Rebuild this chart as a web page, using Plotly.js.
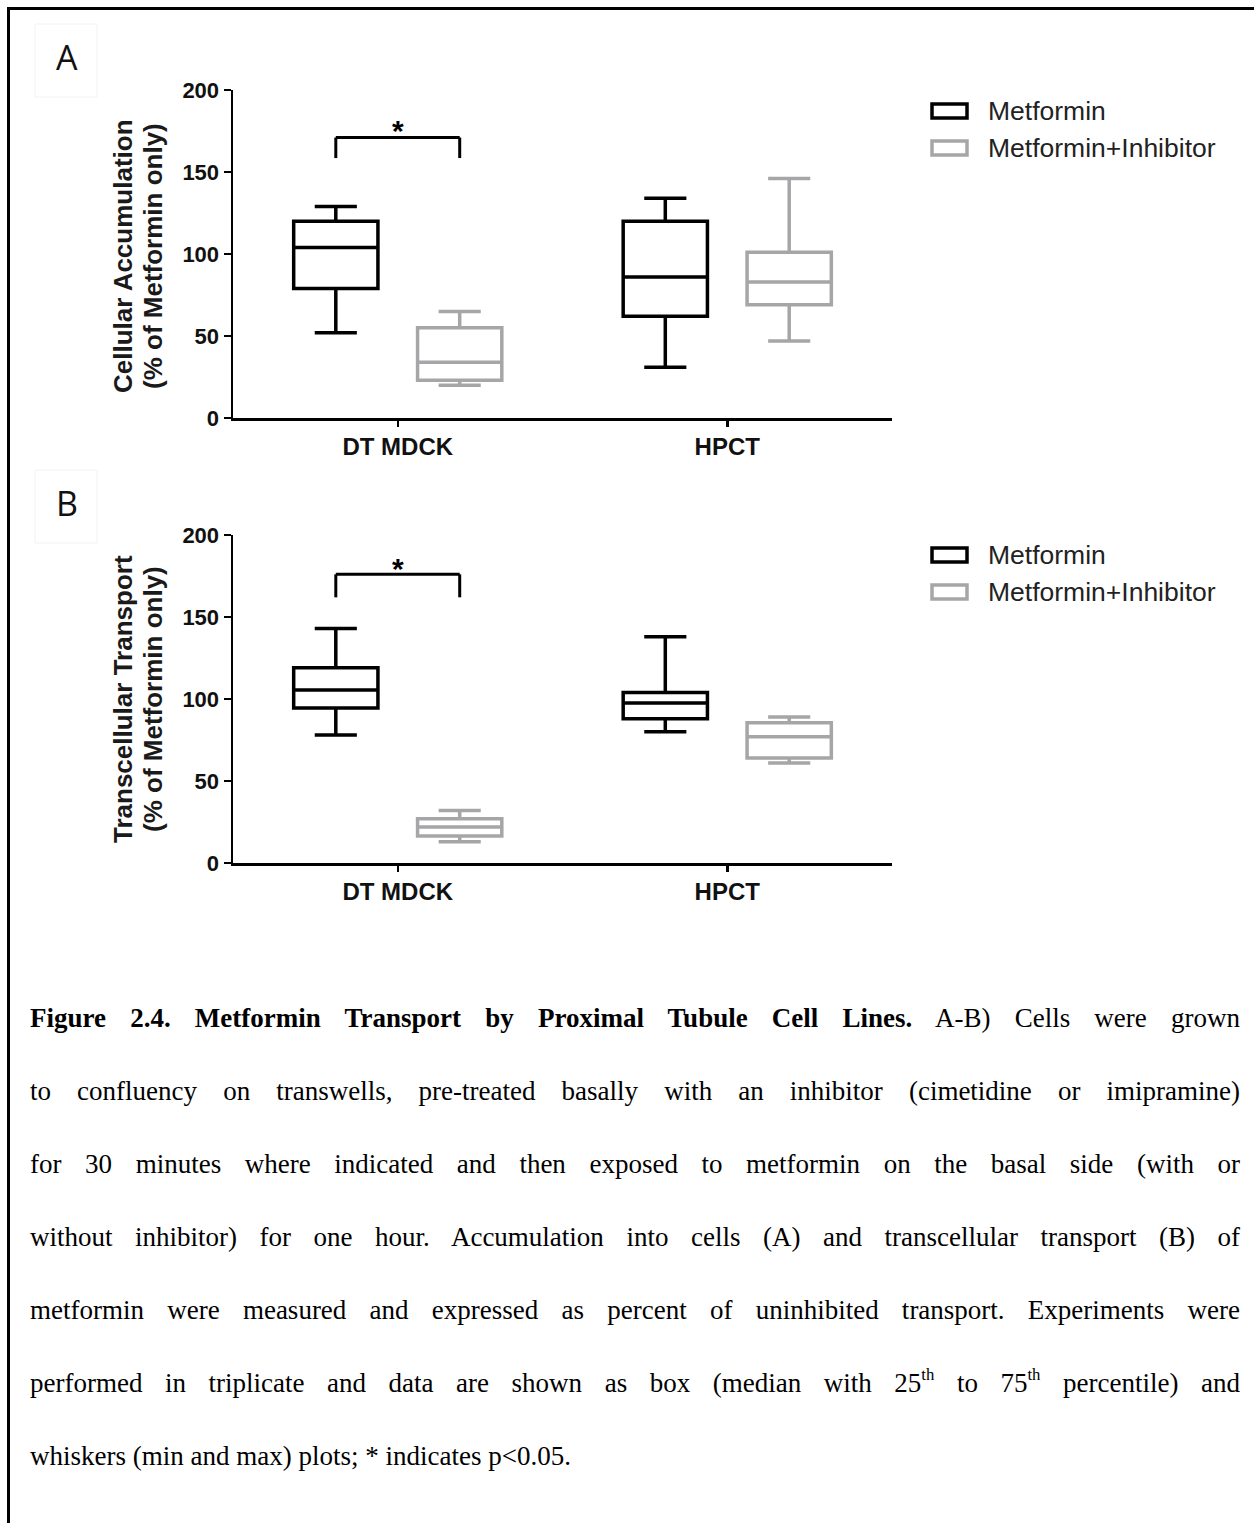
<!DOCTYPE html>
<html>
<head>
<meta charset="utf-8">
<script src="https://cdn.plot.ly/plotly-3.0.1.min.js"></script>
<style>
  html, body { margin:0; padding:0; background:#fff; }
  #wrap { position:relative; width:1254px; height:1523px; overflow:hidden; }
  #chart { position:absolute; left:0; top:0; width:1254px; height:1523px; }
  #frame { position:absolute; left:7px; top:7px; width:1260px; height:1530px;
           border-top:3px solid #000; border-left:3px solid #000; pointer-events:none; }
  #caption { position:absolute; left:30px; top:982px; width:1210px;
             font-family:"Liberation Serif","Times New Roman",serif; font-size:27px;
             color:#000; line-height:73px; }
  .ln { text-align:justify; text-align-last:justify; white-space:nowrap; }
  .ln.last { text-align-last:left; }
  sup { font-size:0.62em; line-height:0; vertical-align:0.7em; }
</style>
</head>
<body>
<div id="wrap">
  <div id="chart"></div>
  <div id="frame"></div>
  <div id="caption">
    <div class="ln"><b>Figure 2.4. Metformin Transport by Proximal Tubule Cell Lines.</b> A-B) Cells were grown</div>
    <div class="ln">to confluency on transwells, pre-treated basally with an inhibitor (cimetidine or imipramine)</div>
    <div class="ln">for 30 minutes where indicated and then exposed to metformin on the basal side (with or</div>
    <div class="ln">without inhibitor) for one hour. Accumulation into cells (A) and transcellular transport (B) of</div>
    <div class="ln">metformin were measured and expressed as percent of uninhibited transport. Experiments were</div>
    <div class="ln">performed in triplicate and data are shown as box (median with 25<sup>th</sup> to 75<sup>th</sup> percentile) and</div>
    <div class="ln last">whiskers (min and max) plots; * indicates p&lt;0.05.</div>
  </div>
</div>
<script>
// ---------------- DATA ----------------
const categories = ["DT MDCK", "HPCT"];
const seriesNames = ["Metformin", "Metformin+Inhibitor"];
const yTicks = [0, 50, 100, 150, 200];

// Panel A: Cellular Accumulation (% of Metformin only)
const accMetMin = [52, 31];
const accMetQ1  = [79, 62];
const accMetMed = [104, 86];
const accMetQ3  = [120, 120];
const accMetMax = [129, 134];

const accInhMin = [20, 47];
const accInhQ1  = [23, 69];
const accInhMed = [34, 83];
const accInhQ3  = [55, 101];
const accInhMax = [65, 146];

// Panel B: Transcellular Transport (% of Metformin only)
const traMetMin = [78, 80];
const traMetQ1  = [94.5, 88];
const traMetMed = [105.5, 97.5];
const traMetQ3  = [119, 104];
const traMetMax = [143, 138];

const traInhMin = [13, 61];
const traInhQ1  = [16.5, 64];
const traInhMed = [22, 77];
const traInhQ3  = [27, 85.5];
const traInhMax = [32, 89];

// significance brackets (DT MDCK): [top, leg end], asterisk y
const sigA = [171, 158.5, 179];
const sigB = [176, 162, 183];

// ---------------- LAYOUT HELPERS ----------------
const W = 1254, H = 1523;
const px = x => x / W;
const py = y => 1 - y / H;
const BLACK = "#000000";
const GRAY = "#a6a6a8";
const FONT = "Liberation Sans, Arial, sans-serif";
const BOXGAP = 0.248, BOXGROUPGAP = 0.32;
const slot = (1 - BOXGAP) / 2;

function box(name, q1, med, q3, lo, hi, color, xa, ya) {
  return {
    type: "box", name: name, x: categories,
    q1: q1, median: med, q3: q3, lowerfence: lo, upperfence: hi,
    xaxis: xa, yaxis: ya, offsetgroup: name,
    line: { color: color, width: 3.5 }, fillcolor: "rgba(255,255,255,0)",
    whiskerwidth: 0.5, boxpoints: false, showlegend: false, hoverinfo: "skip"
  };
}

const data = [
  box(seriesNames[0], accMetQ1, accMetMed, accMetQ3, accMetMin, accMetMax, BLACK, "x", "y"),
  box(seriesNames[1], accInhQ1, accInhMed, accInhQ3, accInhMin, accInhMax, GRAY, "x", "y"),
  box(seriesNames[0], traMetQ1, traMetMed, traMetQ3, traMetMin, traMetMax, BLACK, "x2", "y2"),
  box(seriesNames[1], traInhQ1, traInhMed, traInhQ3, traInhMin, traInhMax, GRAY, "x2", "y2")
];

function xAxis(anchor) {
  return {
    domain: [px(233), px(892)], anchor: anchor, type: "category",
    range: [-0.5, 1.5], showline: true, linecolor: BLACK, linewidth: 2.5,
    ticks: "outside", ticklen: 6, tickwidth: 2.5, tickcolor: BLACK,
    tickfont: { family: FONT, size: 24, color: "#111", weight: "bold" },
    showgrid: false, zeroline: false, fixedrange: true
  };
}
function yAxis(anchor, top, bottom) {
  return {
    domain: [py(bottom), py(top)], anchor: anchor, range: [0, 200],
    tickvals: yTicks, ticktext: yTicks.map(String),
    showline: true, linecolor: BLACK, linewidth: 2.5,
    ticks: "outside", ticklen: 7, tickwidth: 2.5, tickcolor: BLACK,
    tickfont: { family: FONT, size: 22, color: "#111", weight: "bold" },
    showgrid: false, zeroline: false, fixedrange: true
  };
}

const shapes = [];
const annotations = [];

function bracket(xa, ya, sig) {
  const xl = -slot / 2, xr = slot / 2;
  const ln = { color: BLACK, width: 3 };
  shapes.push({ type: "line", xref: xa, yref: ya, x0: xl, x1: xr, y0: sig[0], y1: sig[0], line: ln });
  shapes.push({ type: "line", xref: xa, yref: ya, x0: xl, x1: xl, y0: sig[0], y1: sig[1], line: ln });
  shapes.push({ type: "line", xref: xa, yref: ya, x0: xr, x1: xr, y0: sig[0], y1: sig[1], line: ln });
  annotations.push({ xref: xa, yref: ya, x: 0, y: sig[2], text: "*", showarrow: false,
    xanchor: "center", yanchor: "middle", yshift: -6,
    font: { family: FONT, size: 30, color: BLACK, weight: "bold" } });
}
bracket("x", "y", sigA);
bracket("x2", "y2", sigB);

function legend(yc1, yc2) {
  [[yc1, BLACK], [yc2, GRAY]].forEach(([yc, c], i) => {
    shapes.push({ type: "rect", xref: "paper", yref: "paper",
      x0: px(932), x1: px(967), y0: py(yc - 7), y1: py(yc + 7),
      line: { color: c, width: 3.5 }, fillcolor: "rgba(0,0,0,0)" });
    annotations.push({ xref: "paper", yref: "paper", x: px(986), y: py(yc),
      xanchor: "left", yanchor: "middle", showarrow: false, text: seriesNames[i],
      font: { family: FONT, size: 26.5, color: "#222" } });
  });
}
legend(111, 148);
legend(555, 592);

function yTitle(lines, yc) {
  const xs = [123, 153];
  lines.forEach((t, i) => {
    annotations.push({ xref: "paper", yref: "paper", x: px(xs[i]), y: py(yc),
      xanchor: "center", yanchor: "middle", showarrow: false, textangle: -90,
      text: t, font: { family: FONT, size: 26, color: "#1a1a1a", weight: "bold" } });
  });
}
yTitle(["Cellular Accumulation", "(% of Metformin only)"], 256);
yTitle(["Transcellular Transport", "(% of Metformin only)"], 699);

function panelLabel(t, yc) {
  shapes.push({ type: "rect", xref: "paper", yref: "paper",
    x0: px(35), x1: px(97), y0: py(yc + 40), y1: py(yc - 33),
    line: { color: "#f2f2f2", width: 1 }, fillcolor: "rgba(0,0,0,0)" });
  annotations.push({ xref: "paper", yref: "paper", x: px(67), y: py(yc),
    xanchor: "center", yanchor: "middle", showarrow: false, text: t,
    font: { family: "Open Sans, Liberation Sans, sans-serif", size: 34, color: "#111" } });
}
panelLabel("A", 57);
panelLabel("B", 503);

const layout = {
  width: W, height: H, margin: { l: 0, r: 0, t: 0, b: 0 },
  paper_bgcolor: "#ffffff", plot_bgcolor: "rgba(0,0,0,0)",
  boxmode: "group", boxgap: BOXGAP, boxgroupgap: BOXGROUPGAP,
  xaxis: xAxis("y"), yaxis: yAxis("x", 90, 418),
  xaxis2: xAxis("y2"), yaxis2: yAxis("x2", 535, 863),
  shapes: shapes, annotations: annotations, showlegend: false
};

Plotly.newPlot("chart", data, layout, { displayModeBar: false, staticPlot: true });
</script>
</body>
</html>
